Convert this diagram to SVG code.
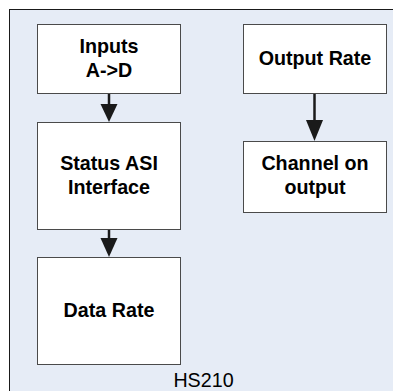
<svg xmlns="http://www.w3.org/2000/svg" width="393" height="391" viewBox="0 0 393 391">
<style>
.box{fill:#ffffff;stroke:#4a4a4a;stroke-width:1}
.lbl{font-family:"Liberation Sans",Arial,sans-serif;font-weight:bold;font-size:19.7px;fill:#000;text-anchor:middle}
.cap{font-family:"Liberation Sans",Arial,sans-serif;font-size:19.7px;fill:#000;text-anchor:middle}
.conn{stroke:#1a1a1a;stroke-width:2.5;fill:none}
.head{fill:#1a1a1a}
</style>
<rect x="0" y="0" width="393" height="391" fill="#ffffff"/>
<rect id="frame" x="9.5" y="9.5" width="400" height="400" fill="#e6ecf6" stroke="#1a1a1a" stroke-width="1"/>
<text class="cap" x="203.5" y="387">HS210</text>
<g id="inputs">
<rect class="box" x="37.5" y="24.5" width="143" height="69"/>
<text class="lbl" x="109" y="52.5">Inputs</text>
<text class="lbl" x="109" y="76.5">A-&gt;D</text>
</g>
<g id="status">
<rect class="box" x="37.5" y="122.5" width="143" height="107"/>
<text class="lbl" x="109" y="170">Status ASI</text>
<text class="lbl" x="109" y="194">Interface</text>
</g>
<g id="datarate">
<rect class="box" x="37.5" y="257.5" width="143" height="107"/>
<text class="lbl" x="109" y="317">Data Rate</text>
</g>
<g id="outputrate">
<rect class="box" x="243.5" y="24.5" width="143" height="69"/>
<text class="lbl" x="315" y="64.5">Output Rate</text>
</g>
<g id="channel">
<rect class="box" x="243.5" y="141.5" width="143" height="71"/>
<text class="lbl" x="315" y="169.5">Channel on</text>
<text class="lbl" x="315" y="193.5">output</text>
</g>
<g id="connectors">
<line class="conn" x1="109" y1="94" x2="109" y2="106"/>
<polygon class="head" points="100.5,104 117.5,104 109,122"/>
<line class="conn" x1="109" y1="230" x2="109" y2="240"/>
<polygon class="head" points="100.5,238 117.5,238 109,257"/>
<line class="conn" x1="314.5" y1="94" x2="314.5" y2="122"/>
<polygon class="head" points="306,120 323,120 314.5,141"/>
</g>
</svg>
